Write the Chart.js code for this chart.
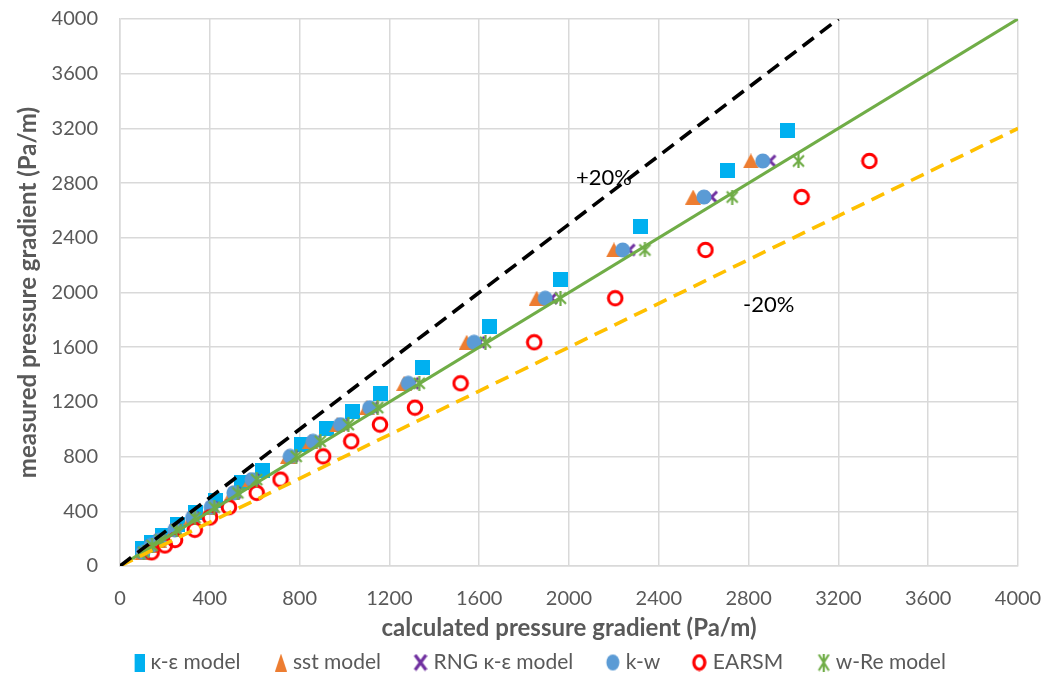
<!DOCTYPE html>
<html>
<head>
<meta charset="utf-8">
<script src="https://cdn.jsdelivr.net/npm/chart.js@4/dist/chart.umd.min.js"></script>
<style>
html,body{margin:0;padding:0;background:#fff;}
#wrap{width:1050px;height:679px;}
</style>
</head>
<body>
<div id="wrap"><canvas id="c" width="1050" height="679"></canvas></div>
<script>
// ---- data (calculated x, measured y) ----
const keX   = [100, 140, 188, 258, 335, 425, 540, 633, 809, 920, 1034, 1161, 1346, 1644, 1963, 2319, 2705, 2972];
const keY   = [125, 175, 220, 300, 390, 478, 610, 696, 892, 1002, 1128, 1263, 1453, 1755, 2097, 2486, 2891, 3181];

const levels = [100, 150, 190, 265, 355, 430, 535, 632, 802, 912, 1034, 1158, 1336, 1636, 1958, 2311, 2698, 2962];

const sstX  = [100, 135, 172, 240, 318, 400, 500, 580, 748, 848, 968, 1099, 1266, 1544, 1856, 2200, 2553, 2810];
const rngX  = [104, 140, 177, 247, 327, 410, 512, 594, 766, 869, 992, 1125, 1305, 1600, 1922, 2268, 2635, 2895];
const kwX   = [102, 138, 175, 244, 323, 406, 507, 588, 758, 860, 982, 1112, 1284, 1577, 1894, 2239, 2601, 2863];
const earX  = [141, 200, 245, 333, 401, 485, 609, 715, 905, 1030, 1158, 1314, 1517, 1845, 2206, 2608, 3036, 3338];
const wreX  = [106, 143, 181, 252, 334, 420, 525, 609, 785, 892, 1017, 1148, 1333, 1628, 1962, 2338, 2727, 3022];

const seriesNames = ["κ-ε model", "sst model", "RNG κ-ε model", "k-w", "EARSM", "w-Re model"];

// reference lines: y = x, y = 1.25x (+20%), y = 0.8x (-20%)
const lineEqX  = [0, 4000];
const lineEqY  = [0, 4000];
const linePlusX = [0, 3200];
const linePlusY = [0, 4000];
const lineMinusX = [0, 4000];
const lineMinusY = [0, 3200];

const axisTicks = [0, 400, 800, 1200, 1600, 2000, 2400, 2800, 3200, 3600, 4000];
const annotations = [
  { text: "+20%", x: 2031, y: 2837 },
  { text: "-20%", x: 2775, y: 1908 }
];

// ---- markers ----
function mk(w, h, draw){ const c=document.createElement('canvas'); c.width=w; c.height=h; draw(c.getContext('2d'), w, h); return c; }
const mSquare = mk(15,15,(g,w,h)=>{g.fillStyle='#00B0F0';g.fillRect(0,0,w,h);});
const mTri = mk(16,15,(g,w,h)=>{g.fillStyle='#ED7D31';g.beginPath();g.moveTo(w/2,0);g.lineTo(w,h);g.lineTo(0,h);g.closePath();g.fill();});
const mX = mk(15,15,(g,w,h)=>{g.strokeStyle='#7030A0';g.lineWidth=3;g.beginPath();g.moveTo(2,2);g.lineTo(w-2,h-2);g.moveTo(w-2,2);g.lineTo(2,h-2);g.stroke();});
const mDot = mk(16,16,(g,w,h)=>{g.fillStyle='#5B9BD5';g.beginPath();g.arc(w/2,h/2,7.5,0,Math.PI*2);g.fill();});
const mRing = mk(18,18,(g,w,h)=>{g.strokeStyle='#FF0000';g.lineWidth=3;g.beginPath();g.arc(w/2,h/2,6.8,0,Math.PI*2);g.stroke();});
const mStar = mk(15,15,(g,w,h)=>{g.strokeStyle='#70AD47';g.lineWidth=2.2;g.beginPath();g.moveTo(2,2);g.lineTo(w-2,h-2);g.moveTo(w-2,2);g.lineTo(2,h-2);g.moveTo(w/2,0);g.lineTo(w/2,h);g.stroke();});

// legend markers: marker drawn at the right end of a wider transparent image
const LW = 43, LH = 18;
function lmk(mw, draw){ return mk(LW, LH, (g,w,h)=>{ g.translate(w - mw, 0); draw(g, mw, h); }); }
const lSquare = lmk(10,(g,w,h)=>{g.fillStyle='#00B0F0';g.fillRect(0,0,w,h);});
const lTri = lmk(12,(g,w,h)=>{g.fillStyle='#ED7D31';g.beginPath();g.moveTo(w/2,0);g.lineTo(w,h);g.lineTo(0,h);g.closePath();g.fill();});
const lX = lmk(14,(g,w,h)=>{g.strokeStyle='#7030A0';g.lineWidth=3.2;g.beginPath();g.moveTo(1.5,1.5);g.lineTo(w-1.5,h-1.5);g.moveTo(w-1.5,1.5);g.lineTo(1.5,h-1.5);g.stroke();});
const lDot = lmk(14,(g,w,h)=>{g.fillStyle='#5B9BD5';g.beginPath();g.ellipse(w/2,h/2,6.5,8,0,0,Math.PI*2);g.fill();});
const lRing = lmk(15,(g,w,h)=>{g.strokeStyle='#FF0000';g.lineWidth=3.2;g.beginPath();g.ellipse(w/2,h/2,5.5,6.8,0,0,Math.PI*2);g.stroke();});
const lStar = lmk(12,(g,w,h)=>{g.strokeStyle='#70AD47';g.lineWidth=2.2;g.beginPath();g.moveTo(1,1);g.lineTo(w-1,h-1);g.moveTo(w-1,1);g.lineTo(1,h-1);g.moveTo(w/2,0);g.lineTo(w/2,h);g.stroke();});
const legendMarkers = [lSquare, lTri, lX, lDot, lRing, lStar];

const pts = (xs, ys) => xs.map((x,i)=>({x:x, y:ys[i]}));

const FONT = "Lato, 'Open Sans', sans-serif";
const GREY = '#595959';

function scatter(i, xs, ys, img, order){
  return { label: seriesNames[i], data: pts(xs, ys), pointStyle: img, showLine:false,
           order: order, legendIndex: i, backgroundColor:'transparent', borderColor:'transparent' };
}
function refLine(xs, ys, color, dash, width, order){
  return { label: '', isRef: true, data: pts(xs, ys), showLine: true, borderColor: color, borderWidth: width,
           borderDash: dash, pointRadius: 0, pointHoverRadius: 0, order: order, fill:false };
}

const annotationPlugin = {
  id: 'ann',
  afterLayout(chart){
    const L = chart.legend;
    if (L) { L.left += 17; L.right += 17; }
  },
  afterDatasetsDraw(chart){
    const {ctx, scales:{x, y}} = chart;
    ctx.save();
    ctx.font = "22px " + FONT;
    ctx.fillStyle = '#000';
    ctx.textAlign = 'left';
    ctx.textBaseline = 'middle';
    annotations.forEach(a => ctx.fillText(a.text, x.getPixelForValue(a.x), y.getPixelForValue(a.y)));
    ctx.restore();
  }
};

new Chart(document.getElementById('c'), {
  type: 'scatter',
  data: {
    datasets: [
      refLine(linePlusX, linePlusY, '#000000', [14, 8], 3.6, 0),
      refLine(lineMinusX, lineMinusY, '#FFC000', [14, 8], 3.6, 0),
      refLine(lineEqX, lineEqY, '#70AD47', [], 3.2, 0),
      scatter(5, wreX, levels, mStar, 1),
      scatter(4, earX, levels, mRing, 2),
      scatter(3, kwX, levels, mDot, 3),
      scatter(2, rngX, levels, mX, 4),
      scatter(1, sstX, levels, mTri, 5),
      scatter(0, keX, keY, mSquare, 6)
    ]
  },
  options: {
    responsive: false,
    animation: false,
    events: [],
    layout: { padding: { left: 0, right: 32, top: 19, bottom: -4 } },
    plugins: {
      tooltip: { enabled: false },
      legend: {
        position: 'bottom',
        labels: {
          usePointStyle: true,
          pointStyleWidth: 34,
          color: GREY,
          font: { family: FONT, size: 21 },
          padding: 8,
          generateLabels: (chart) => {
            const items = [];
            chart.data.datasets.forEach((d, idx) => {
              if (d.isRef) return;
              items.push({ text: d.label, datasetIndex: idx, pointStyle: legendMarkers[d.legendIndex],
                           fillStyle:'transparent', strokeStyle:'transparent', lineWidth:0, hidden:false,
                           fontColor: GREY, li: d.legendIndex });
            });
            items.sort((a,b)=>a.li-b.li);
            return items;
          }
        }
      }
    },
    scales: {
      x: {
        type: 'linear', min: 0, max: 4000,
        afterBuildTicks: (s) => { s.ticks = axisTicks.map(v => ({ value: v })); },
        afterFit: (s) => { s.height = 78; s.paddingLeft = 0; s.paddingRight = 0; },
        grid: { color: '#D9D9D9', lineWidth: 1.5, drawTicks: false },
        border: { color: '#D9D9D9', width: 1.5 },
        ticks: { color: GREY, font: { family: FONT, size: 20 }, padding: 21, maxRotation: 0,
                 callback: (v) => String(v) },
        title: { display: true, text: 'calculated pressure gradient (Pa/m)', color: GREY,
                 font: { family: FONT, size: 24, weight: 'bold' }, padding: { top: 0, bottom: 1 } }
      },
      y: {
        type: 'linear', min: 0, max: 4000,
        afterBuildTicks: (s) => { s.ticks = axisTicks.map(v => ({ value: v })); },
        afterFit: (s) => { s.width = 120; s.paddingTop = 0; s.paddingBottom = 0; },
        grid: { color: '#D9D9D9', lineWidth: 1.5, drawTicks: false },
        border: { color: '#D9D9D9', width: 1.5 },
        ticks: { color: GREY, font: { family: FONT, size: 20 }, padding: 22,
                 callback: (v) => String(v) },
        title: { display: true, text: 'measured pressure gradient (Pa/m)', color: GREY,
                 font: { family: FONT, size: 24, weight: 'bold' }, padding: { top: 14, bottom: 0 } }
      }
    }
  },
  plugins: [annotationPlugin]
});
</script>
</body>
</html>
